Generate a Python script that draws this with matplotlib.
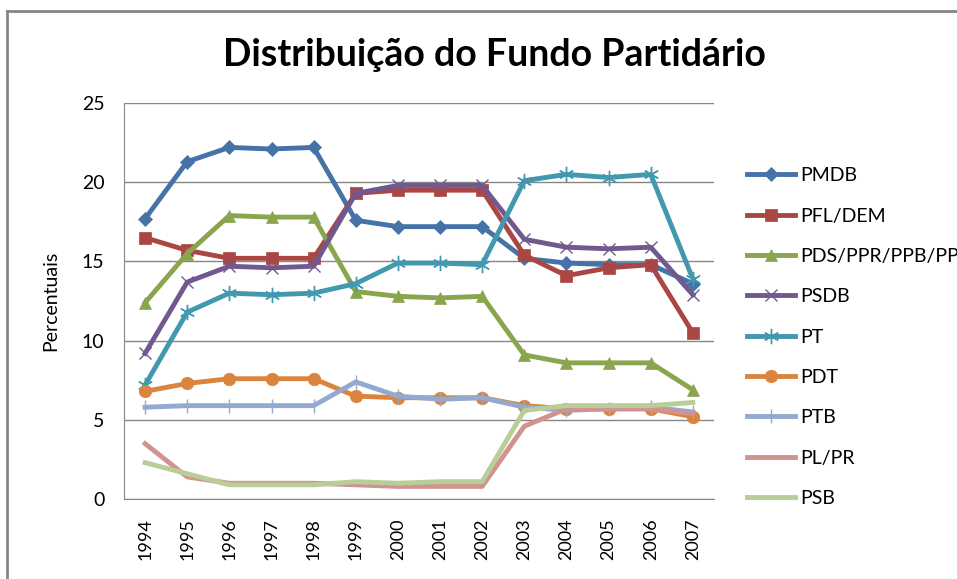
import matplotlib

matplotlib.use("Agg")

import matplotlib.pyplot as plt
from matplotlib.lines import Line2D

plt.rcParams["font.family"] = ["Lato", "DejaVu Sans"]

years = [str(y) for y in range(1994, 2008)]

pmdb = [17.7, 21.3, 22.2, 22.1, 22.2, 17.6, 17.2, 17.2, 17.2, 15.2, 14.9, 14.8, 14.8, 13.6]
pfl_dem = [16.5, 15.7, 15.2, 15.2, 15.2, 19.3, 19.5, 19.5, 19.5, 15.4, 14.1, 14.6, 14.8, 10.5]
pds_pp = [12.4, 15.5, 17.9, 17.8, 17.8, 13.1, 12.8, 12.7, 12.8, 9.1, 8.6, 8.6, 8.6, 6.9]
psdb = [9.2, 13.7, 14.7, 14.6, 14.7, 19.3, 19.8, 19.8, 19.8, 16.4, 15.9, 15.8, 15.9, 12.9]
pt = [7.2, 11.8, 13.0, 12.9, 13.0, 13.6, 14.9, 14.9, 14.8, 20.1, 20.5, 20.3, 20.5, 13.9]
pdt = [6.8, 7.3, 7.6, 7.6, 7.6, 6.5, 6.4, 6.4, 6.4, 5.9, 5.7, 5.7, 5.7, 5.2]
ptb = [5.8, 5.9, 5.9, 5.9, 5.9, 7.4, 6.5, 6.3, 6.4, 5.8, 5.6, 5.7, 5.8, 5.5]
pl_pr = [3.5, 1.4, 1.0, 1.0, 1.0, 0.9, 0.8, 0.8, 0.8, 4.6, 5.7, 5.7, 5.7, 5.4]
psb = [2.3, 1.6, 0.9, 0.9, 0.9, 1.1, 1.0, 1.1, 1.1, 5.6, 5.9, 5.9, 5.9, 6.1]

series = [
    ("PMDB", pmdb, "#4572A7", "D", 7),
    ("PFL/DEM", pfl_dem, "#AA4643", "s", 8),
    ("PDS/PPR/PPB/PP", pds_pp, "#89A54E", "^", 9),
    ("PSDB", psdb, "#71588F", "x", 9),
    ("PT", pt, "#4198AF", (6, 2, 0), 11),
    ("PDT", pdt, "#DB843D", "o", 9),
    ("PTB", ptb, "#93A9CF", "|", 10),
    ("PL/PR", pl_pr, "#D19392", None, 0),
    ("PSB", psb, "#B9CD96", None, 0),
]

fig = plt.figure(figsize=(9.57, 5.79), dpi=100)
ax = fig.add_axes([0.1296, 0.138, 0.6164, 0.684])

x = range(len(years))
for name, values, color, marker, size in series:
    thin = marker in ("x", (6, 2, 0), "|")
    ax.plot(
        x, values, color=color, linewidth=3.5, label=name,
        marker=marker, markersize=size,
        markeredgewidth=1.0 if thin else 0.5,
        markeredgecolor=color, solid_joinstyle="round",
    )

ax.set_xlim(-0.5, len(years) - 0.5)
ax.set_ylim(0, 25)
ax.set_yticks([0, 5, 10, 15, 20, 25])
ax.set_xticks(list(x))
ax.set_xticklabels(years, rotation=90, fontsize=13)
ax.tick_params(axis="y", labelsize=14, length=0, pad=14)
ax.tick_params(axis="x", length=0, pad=14)
ax.grid(axis="y", color="#868686", linewidth=1)
ax.set_axisbelow(True)
for side in ("top", "right"):
    ax.spines[side].set_visible(False)
for side in ("left", "bottom"):
    ax.spines[side].set_color("#868686")
ax.set_ylabel("Percentuais", fontsize=14, labelpad=16)

fig.text(0.517, 0.905, "Distribuição do Fundo Partidário", fontsize=27,
         fontweight="bold", ha="center", va="center")

fig.legend(loc="upper left", bbox_to_anchor=(0.7724, 0.7246), frameon=False,
           fontsize=14, labelspacing=1.2, handlelength=2.47, handletextpad=0.26,
           borderaxespad=0)

# chart-area border: only top and left edges are visible in the crop
fig.lines.append(Line2D([0.0073, 1.0], [0.981, 0.981], transform=fig.transFigure,
                        color="#868686", linewidth=2))
fig.lines.append(Line2D([0.0073, 0.0073], [0.0, 0.981], transform=fig.transFigure,
                        color="#868686", linewidth=2))

fig.savefig("out.png", dpi=100)
